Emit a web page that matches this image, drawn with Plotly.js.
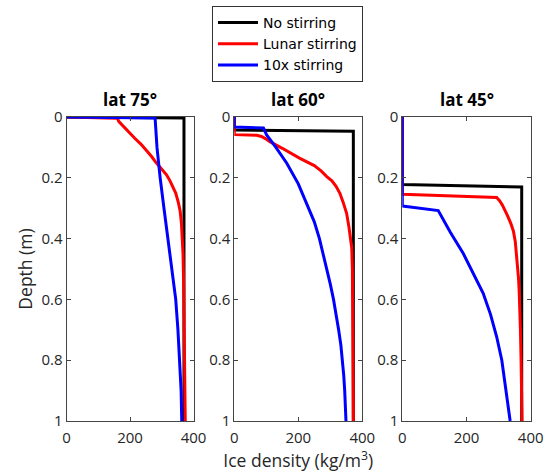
<!DOCTYPE html>
<html><head><meta charset="utf-8">
<script src="https://cdn.plot.ly/plotly-3.0.1.min.js"></script>
<style>body{margin:0;background:#fff}#chart{width:548px;height:473px}</style>
</head><body><div id="chart"></div>
<script>
// Series names
const seriesNames = ["No stirring", "Lunar stirring", "10x stirring"];
const panelTitles = ["lat 75°", "lat 60°", "lat 45°"];
const xTickVals = [0, 200, 400];
const yTickVals = [0, 0.2, 0.4, 0.6, 0.8, 1];
const yTickText = ["0", "0.2", "0.4", "0.6", "0.8", "1"];

// lat 75
const dens75_no = [0, 370, 370, 370];
const depth75_no = [0, 0.003, 0.5, 1];
const dens75_lunar = [0, 160, 165, 178, 195, 215, 235, 253, 268, 282, 300, 315, 326, 336, 344, 352, 358, 362, 365, 367, 369, 371, 373, 374];
const depth75_lunar = [0, 0.004, 0.015, 0.03, 0.05, 0.07, 0.09, 0.11, 0.13, 0.15, 0.17, 0.19, 0.21, 0.23, 0.25, 0.28, 0.31, 0.35, 0.4, 0.45, 0.55, 0.7, 0.85, 1];
const dens75_10x = [0, 279, 285, 289, 295, 307, 320, 333, 344, 351, 357, 361, 363];
const depth75_10x = [0, 0.003, 0.1, 0.15, 0.2, 0.3, 0.4, 0.5, 0.6, 0.7, 0.8, 0.9, 1];

// lat 60
const dens60_no = [0, 0, 372, 372];
const depth60_no = [0, 0.043, 0.047, 1];
const dens60_lunar = [0, 0, 70, 85, 97, 111, 150, 205, 250, 272, 289, 305, 318, 330, 340, 351, 358, 364, 367, 369, 370, 371, 372];
const depth60_lunar = [0, 0.058, 0.06, 0.064, 0.071, 0.081, 0.103, 0.136, 0.16, 0.178, 0.196, 0.21, 0.228, 0.251, 0.28, 0.317, 0.36, 0.4, 0.43, 0.5, 0.6, 0.8, 1];
const dens60_10x = [0, 0, 91, 101, 130, 164, 200, 226, 250, 266, 278, 288, 300, 310, 319, 326, 333, 338, 342, 345, 347, 349];
const depth60_10x = [0, 0.033, 0.036, 0.059, 0.1, 0.152, 0.22, 0.284, 0.345, 0.4, 0.45, 0.5, 0.55, 0.6, 0.65, 0.7, 0.75, 0.8, 0.85, 0.9, 0.95, 1];

// lat 45
const dens45_no = [0, 0, 372, 372];
const depth45_no = [0, 0.222, 0.23, 1];
const dens45_lunar = [0, 0, 294, 303, 312, 320, 328, 338, 346, 352, 356, 359, 362, 364, 366, 368, 370, 373];
const depth45_lunar = [0, 0.254, 0.265, 0.275, 0.29, 0.305, 0.325, 0.35, 0.375, 0.41, 0.45, 0.49, 0.53, 0.57, 0.62, 0.7, 0.8, 1];
const dens45_10x = [0, 0, 112, 150, 190, 232, 252, 275, 294, 310, 320, 336];
const depth45_10x = [0, 0.293, 0.308, 0.38, 0.449, 0.536, 0.58, 0.65, 0.723, 0.8, 0.876, 1];

const colors = ["#000000", "#ff0000", "#0000ff"];
const panels = [
  [[dens75_no, depth75_no], [dens75_lunar, depth75_lunar], [dens75_10x, depth75_10x]],
  [[dens60_no, depth60_no], [dens60_lunar, depth60_lunar], [dens60_10x, depth60_10x]],
  [[dens45_no, depth45_no], [dens45_lunar, depth45_lunar], [dens45_10x, depth45_10x]]
];

const traces = [];
panels.forEach((p, pi) => {
  p.forEach((s, si) => {
    traces.push({
      x: s[0], y: s[1], type: "scatter", mode: "lines",
      name: seriesNames[si],
      line: {color: colors[si], width: 3},
      xaxis: pi === 0 ? "x" : "x" + (pi + 1),
      yaxis: pi === 0 ? "y" : "y" + (pi + 1),
      showlegend: pi === 0,
      legendrank: si + 1
    });
  });
});

const W = 548, H = 473;
const xDomains = [[66.5, 193.5], [234.3, 362.3], [402.3, 530.7]].map(d => [d[0] / W, d[1] / W]);
const yDomain = [1 - 421 / H, 1 - 117 / H];
const fontFam = "Open Sans, sans-serif";
const tickFont = {family: fontFam, size: 15, color: "#262626"};

const layout = {
  width: W, height: H,
  margin: {l: 0, r: 0, t: 0, b: 0},
  paper_bgcolor: "#fff", plot_bgcolor: "#fff",
  font: {family: fontFam, color: "#262626"},
  showlegend: true,
  legend: {
    x: 212 / W, y: 1 - 6 / H, xanchor: "left", yanchor: "top",
    bordercolor: "#333", borderwidth: 1, bgcolor: "#fff",
    font: {family: "DejaVu Sans, sans-serif", size: 14, color: "#000"},
    tracegroupgap: 0, itemwidth: 40
  },
  annotations: panelTitles.map((t, i) => ({
    text: "<b>" + t + "</b>", xref: "paper", yref: "paper",
    x: (xDomains[i][0] + xDomains[i][1]) / 2, y: 1 - 100 / H,
    xanchor: "center", yanchor: "middle", showarrow: false,
    font: {family: fontFam, size: 17, color: "#000"}
  }))
};

for (let i = 0; i < 3; i++) {
  const xa = i === 0 ? "xaxis" : "xaxis" + (i + 1);
  const ya = i === 0 ? "yaxis" : "yaxis" + (i + 1);
  layout[xa] = {
    domain: xDomains[i], anchor: i === 0 ? "y" : "y" + (i + 1),
    range: [0, 400], autorange: false, tickvals: xTickVals,
    ticks: "inside", ticklen: 4, tickcolor: "#444", tickwidth: 1,
    ticklabelstandoff: 3,
    showline: true, linecolor: "#444", linewidth: 1, mirror: "ticks",
    showgrid: false, zeroline: false, tickfont: tickFont, fixedrange: true
  };
  layout[ya] = {
    domain: yDomain, anchor: i === 0 ? "x" : "x" + (i + 1),
    range: [1, 0], autorange: false, tickvals: yTickVals, ticktext: yTickText,
    ticks: "inside", ticklen: 4, tickcolor: "#444", tickwidth: 1,
    showline: true, linecolor: "#444", linewidth: 1, mirror: "ticks",
    showgrid: false, zeroline: false, tickfont: tickFont, fixedrange: true
  };
}
layout.yaxis.title = {text: "Depth (m)", font: {family: fontFam, size: 17.5, color: "#262626"}, standoff: 4};
layout.xaxis2.title = {text: "Ice density (kg/m<sup>3</sup>)", font: {family: fontFam, size: 17.5, color: "#262626"}, standoff: 2};

Plotly.newPlot("chart", traces, layout, {staticPlot: true, displayModeBar: false});
</script>
</body></html>
